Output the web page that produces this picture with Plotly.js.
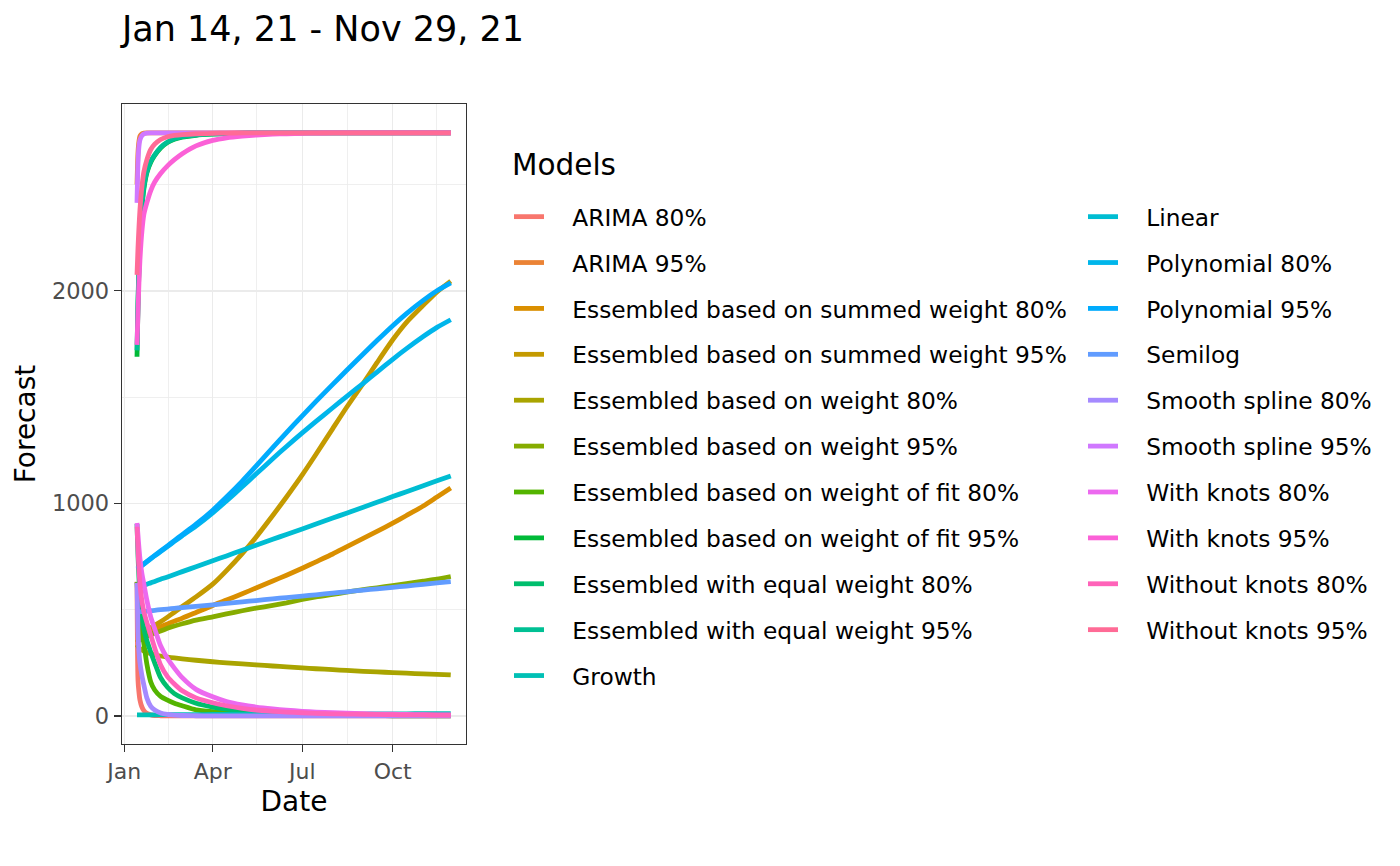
<!DOCTYPE html>
<html>
<head>
<meta charset="utf-8">
<script src="https://cdn.plot.ly/plotly-3.0.1.min.js"></script>
<style>
  html, body { margin: 0; padding: 0; background: #fff; }
  #chart { width: 1400px; height: 866px; }
</style>
</head>
<body>
<div id="chart"></div>
<script>
// forecast dates (denser at the start where the bounds move fast)
const dates = ["2021-01-14", "2021-01-15", "2021-01-16", "2021-01-17", "2021-01-19", "2021-01-21", "2021-01-24", "2021-01-28",
  "2021-02-01", "2021-02-07", "2021-02-14", "2021-02-21", "2021-03-01", "2021-03-15", "2021-04-01", "2021-04-15",
  "2021-05-01", "2021-05-15", "2021-06-01", "2021-06-15", "2021-07-01", "2021-07-15", "2021-08-01", "2021-08-15",
  "2021-09-01", "2021-09-15", "2021-10-01", "2021-10-15", "2021-11-01", "2021-11-15", "2021-11-29"];

const models = ["ARIMA 80%", "ARIMA 95%", "Essembled based on summed weight 80%", "Essembled based on summed weight 95%",
  "Essembled based on weight 80%", "Essembled based on weight 95%", "Essembled based on weight of fit 80%",
  "Essembled based on weight of fit 95%", "Essembled with equal weight 80%", "Essembled with equal weight 95%",
  "Growth", "Linear", "Polynomial 80%", "Polynomial 95%", "Semilog", "Smooth spline 80%", "Smooth spline 95%",
  "With knots 80%", "With knots 95%", "Without knots 80%", "Without knots 95%"];

const arima80 = [631, 170, 110, 75, 42, 25, 12, 5, 2, 1, 0, 0, 0, 0, 0, 0, 0, 0, 0, 0, 0, 0, 0, 0, 0, 0, 0, 0, 0, 0, 0];
const arima95 = [2500, 2650, 2705, 2728, 2739, 2742, 2743, 2743, 2743, 2743, 2743, 2743, 2743, 2743, 2743, 2743, 2743, 2743, 2743, 2743, 2743, 2743, 2743, 2743, 2743, 2743, 2743, 2743, 2743, 2743, 2743];
const summed80 = [375, 377, 379, 381, 385, 389, 395, 402, 409, 420, 433, 446, 460, 487, 520, 545, 575, 602, 635, 662, 695, 725, 762, 795, 835, 868, 907, 943, 988, 1030, 1072];
const summed95 = [372, 375, 379, 383, 390, 397, 405, 415, 426, 443, 465, 488, 515, 560, 620, 684, 764, 841, 943, 1030, 1134, 1231, 1352, 1451, 1565, 1662, 1770, 1852, 1932, 1995, 2046];
const weight80 = [335, 328, 322, 317, 310, 305, 299, 293, 288, 282, 277, 273, 269, 262, 255, 250, 245, 240, 235, 231, 226, 222, 218, 214, 210, 207, 204, 201, 198, 196, 193];
const weight95 = [345, 350, 354, 357, 362, 367, 374, 382, 390, 400, 412, 423, 434, 451, 466, 480, 495, 507, 520, 532, 548, 560, 572, 582, 594, 603, 613, 622, 634, 644, 656];
const fit80 = [630, 560, 505, 460, 400, 340, 245, 160, 122, 92, 74, 60, 48, 29, 20, 15, 11, 8, 6, 5, 4, 3, 3, 2, 2, 2, 1, 1, 1, 1, 1];
const fit95 = [1690, 1930, 2100, 2235, 2390, 2480, 2555, 2605, 2637, 2672, 2698, 2713, 2723, 2732, 2737, 2740, 2742, 2743, 2743, 2743, 2743, 2743, 2743, 2743, 2743, 2743, 2743, 2743, 2743, 2743, 2743];
const equal80 = [903, 760, 650, 570, 470, 410, 355, 300, 250, 180, 135, 105, 85, 60, 42, 32, 24, 19, 15, 12, 10, 8, 7, 6, 5, 4, 4, 3, 3, 3, 2];
const equal95 = [1720, 1950, 2120, 2250, 2400, 2490, 2560, 2610, 2640, 2675, 2700, 2715, 2725, 2733, 2738, 2740, 2742, 2743, 2743, 2743, 2743, 2743, 2743, 2743, 2743, 2743, 2743, 2743, 2743, 2743, 2743];
const growth = [5, 5, 5, 5, 5, 5, 5, 5, 5, 6, 6, 6, 6, 6, 7, 7, 7, 7, 8, 8, 8, 8, 9, 9, 9, 10, 10, 10, 11, 11, 11];
const linear = [603, 605, 606, 608, 611, 615, 620, 626, 633, 643, 654, 666, 679, 702, 730, 753, 780, 803, 831, 854, 880, 903, 931, 954, 982, 1005, 1032, 1055, 1083, 1106, 1129];
const poly80 = [690, 693, 697, 700, 707, 714, 725, 739, 753, 773, 797, 821, 848, 893, 955, 1012, 1078, 1138, 1210, 1268, 1332, 1386, 1450, 1502, 1565, 1618, 1678, 1728, 1785, 1828, 1864];
const poly95 = [692, 695, 699, 702, 709, 716, 727, 741, 755, 776, 800, 825, 853, 902, 968, 1030, 1105, 1175, 1262, 1333, 1412, 1480, 1560, 1625, 1703, 1766, 1836, 1893, 1955, 2000, 2037];
const semilog = [489, 489, 490, 490, 491, 492, 493, 495, 497, 500, 503, 506, 510, 516, 523, 530, 537, 543, 551, 557, 564, 570, 578, 584, 592, 598, 605, 611, 619, 626, 632];
const spline80 = [626, 400, 300, 250, 190, 145, 85, 45, 28, 14, 7, 4, 2, 1, 0, 0, 0, 0, 0, 0, 0, 0, 0, 0, 0, 0, 0, 0, 0, 0, 0];
const spline95 = [2414, 2600, 2680, 2710, 2730, 2738, 2742, 2743, 2743, 2743, 2743, 2743, 2743, 2743, 2743, 2743, 2743, 2743, 2743, 2743, 2743, 2743, 2743, 2743, 2743, 2743, 2743, 2743, 2743, 2743, 2743];
const knots80 = [908, 850, 790, 740, 670, 620, 545, 465, 410, 330, 270, 225, 180, 125, 90, 68, 52, 42, 33, 27, 22, 18, 15, 13, 11, 9, 8, 7, 6, 5, 5];
const knots95 = [1746, 1900, 2040, 2146, 2280, 2360, 2414, 2472, 2512, 2552, 2588, 2617, 2645, 2682, 2708, 2720, 2728, 2733, 2737, 2739, 2741, 2742, 2743, 2743, 2743, 2743, 2743, 2743, 2743, 2743, 2743];
const noKnots80 = [890, 780, 690, 620, 540, 490, 440, 380, 320, 240, 185, 150, 118, 85, 62, 48, 36, 28, 22, 18, 15, 12, 10, 9, 8, 7, 6, 5, 5, 4, 4];
const noKnots95 = [2075, 2200, 2300, 2381, 2490, 2560, 2616, 2665, 2690, 2712, 2725, 2731, 2735, 2739, 2741, 2742, 2743, 2743, 2743, 2743, 2743, 2743, 2743, 2743, 2743, 2743, 2743, 2743, 2743, 2743, 2743];

const series = [arima80, arima95, summed80, summed95, weight80, weight95, fit80, fit95, equal80, equal95,
  growth, linear, poly80, poly95, semilog, spline80, spline95, knots80, knots95, noKnots80, noKnots95];

const xTickVals = ["2021-01-01", "2021-04-01", "2021-07-01", "2021-10-01"];
const xTickText = ["Jan", "Apr", "Jul", "Oct"];
const xMinorVals = ["2021-02-15", "2021-05-16", "2021-08-16", "2021-11-15"];
const yTickVals = [0, 1000, 2000];
const yMinorVals = [500, 1500, 2500];

const FONT = "DejaVu Sans";
const KEY_GAP = "\u2002\u2002"; // a bit more room between key line and label, like ggplot

// ggplot2 default discrete palette: hcl(h, c = 100, l = 65), hues spread evenly from 15
function hueColor(i, n) {
  const h = (15 + i * 360 / n) * Math.PI / 180;
  const c = 100, l = 65;
  const U = c * Math.cos(h), V = c * Math.sin(h);
  const Xn = 95.047, Yn = 100, Zn = 108.883;
  const den = Xn + 15 * Yn + 3 * Zn;
  const un = 4 * Xn / den, vn = 9 * Yn / den;
  const Y = Yn * Math.pow((l + 16) / 116, 3);
  const u = U / (13 * l) + un, v = V / (13 * l) + vn;
  const X = 9 * Y * u / (4 * v);
  const Z = -X / 3 - 5 * Y + 3 * Y / v;
  const x = X / 100, y = Y / 100, z = Z / 100;
  const lin = [
    3.240479 * x - 1.537150 * y - 0.498535 * z,
    -0.969256 * x + 1.875992 * y + 0.041556 * z,
    0.055648 * x - 0.204043 * y + 1.057311 * z,
  ];
  return "#" + lin.map((t) => {
    const g = t <= 0.0031308 ? 12.92 * t : 1.055 * Math.pow(t, 1 / 2.4) - 0.055;
    const k = Math.round(Math.min(1, Math.max(0, g)) * 255);
    return k.toString(16).padStart(2, "0");
  }).join("");
}

const traces = models.map((name, i) => ({
  type: "scatter",
  mode: "lines",
  name: KEY_GAP + name,
  x: dates,
  y: series[i],
  legend: i < 11 ? "legend" : "legend2",
  legendgroup: "g" + i,
  line: { color: hueColor(i, models.length), width: 4.8, shape: "spline", smoothing: 0.6 },
}));

const legendBase = {
  xanchor: "left",
  yanchor: "top",
  y: (744 - 195) / 640,
  bgcolor: "rgba(0,0,0,0)",
  borderwidth: 0,
  tracegroupgap: 12.6,
  font: { family: FONT, size: 23.3, color: "#000" },
};

const layout = {
  width: 1400,
  height: 866,
  margin: { l: 122, r: 934, t: 104, b: 122 },
  paper_bgcolor: "#fff",
  plot_bgcolor: "#fff",
  font: { family: FONT, color: "#000" },
  title: {
    text: "Jan 14, 21 - Nov 29, 21",
    x: 0, xref: "paper", xanchor: "left",
    y: 1 - 29 / 866, yref: "container", yanchor: "middle",
    font: { family: FONT, size: 35, color: "#000" },
  },
  xaxis: {
    type: "date",
    range: ["2020-12-29 18:00", "2021-12-14 12:00"],
    tickmode: "array",
    tickvals: xTickVals,
    ticktext: xTickText,
    ticks: "outside", ticklen: 7, tickwidth: 1.3, tickcolor: "#333333",
    tickfont: { family: FONT, size: 22, color: "#4D4D4D" },
    showgrid: true, gridcolor: "#EBEBEB", gridwidth: 1.4,
    minor: { tickmode: "array", tickvals: xMinorVals, showgrid: true, gridcolor: "#EBEBEB", gridwidth: 0.8, ticks: "" },
    showline: true, linecolor: "#333333", linewidth: 1.3, mirror: true,
    zeroline: false,
    title: { text: "Date", font: { family: FONT, size: 28, color: "#000" }, standoff: 8 },
  },
  yaxis: {
    range: [-132, 2879],
    tickmode: "array",
    tickvals: yTickVals,
    ticktext: yTickVals.map(String),
    ticks: "outside", ticklen: 7, tickwidth: 1.3, tickcolor: "#333333",
    tickfont: { family: FONT, size: 22.5, color: "#4D4D4D" },
    showgrid: true, gridcolor: "#EBEBEB", gridwidth: 1.4,
    minor: { tickmode: "array", tickvals: yMinorVals, showgrid: true, gridcolor: "#EBEBEB", gridwidth: 0.8, ticks: "" },
    showline: true, linecolor: "#333333", linewidth: 1.3, mirror: true,
    zeroline: false,
    title: { text: "Forecast", font: { family: FONT, size: 28, color: "#000" }, standoff: 8 },
  },
  legend: Object.assign({}, legendBase, { x: (509 - 122) / 344 }),
  legend2: Object.assign({}, legendBase, { x: (1083 - 122) / 344 }),
  showlegend: true,
  annotations: [{
    text: "Models",
    xref: "paper", yref: "paper",
    x: (510 - 122) / 344, y: (744 - 165) / 640,
    xanchor: "left", yanchor: "middle",
    showarrow: false,
    font: { family: FONT, size: 29.5, color: "#000" },
  }],
};

Plotly.newPlot("chart", traces, layout, { displayModeBar: false, staticPlot: true });
</script>
</body>
</html>
